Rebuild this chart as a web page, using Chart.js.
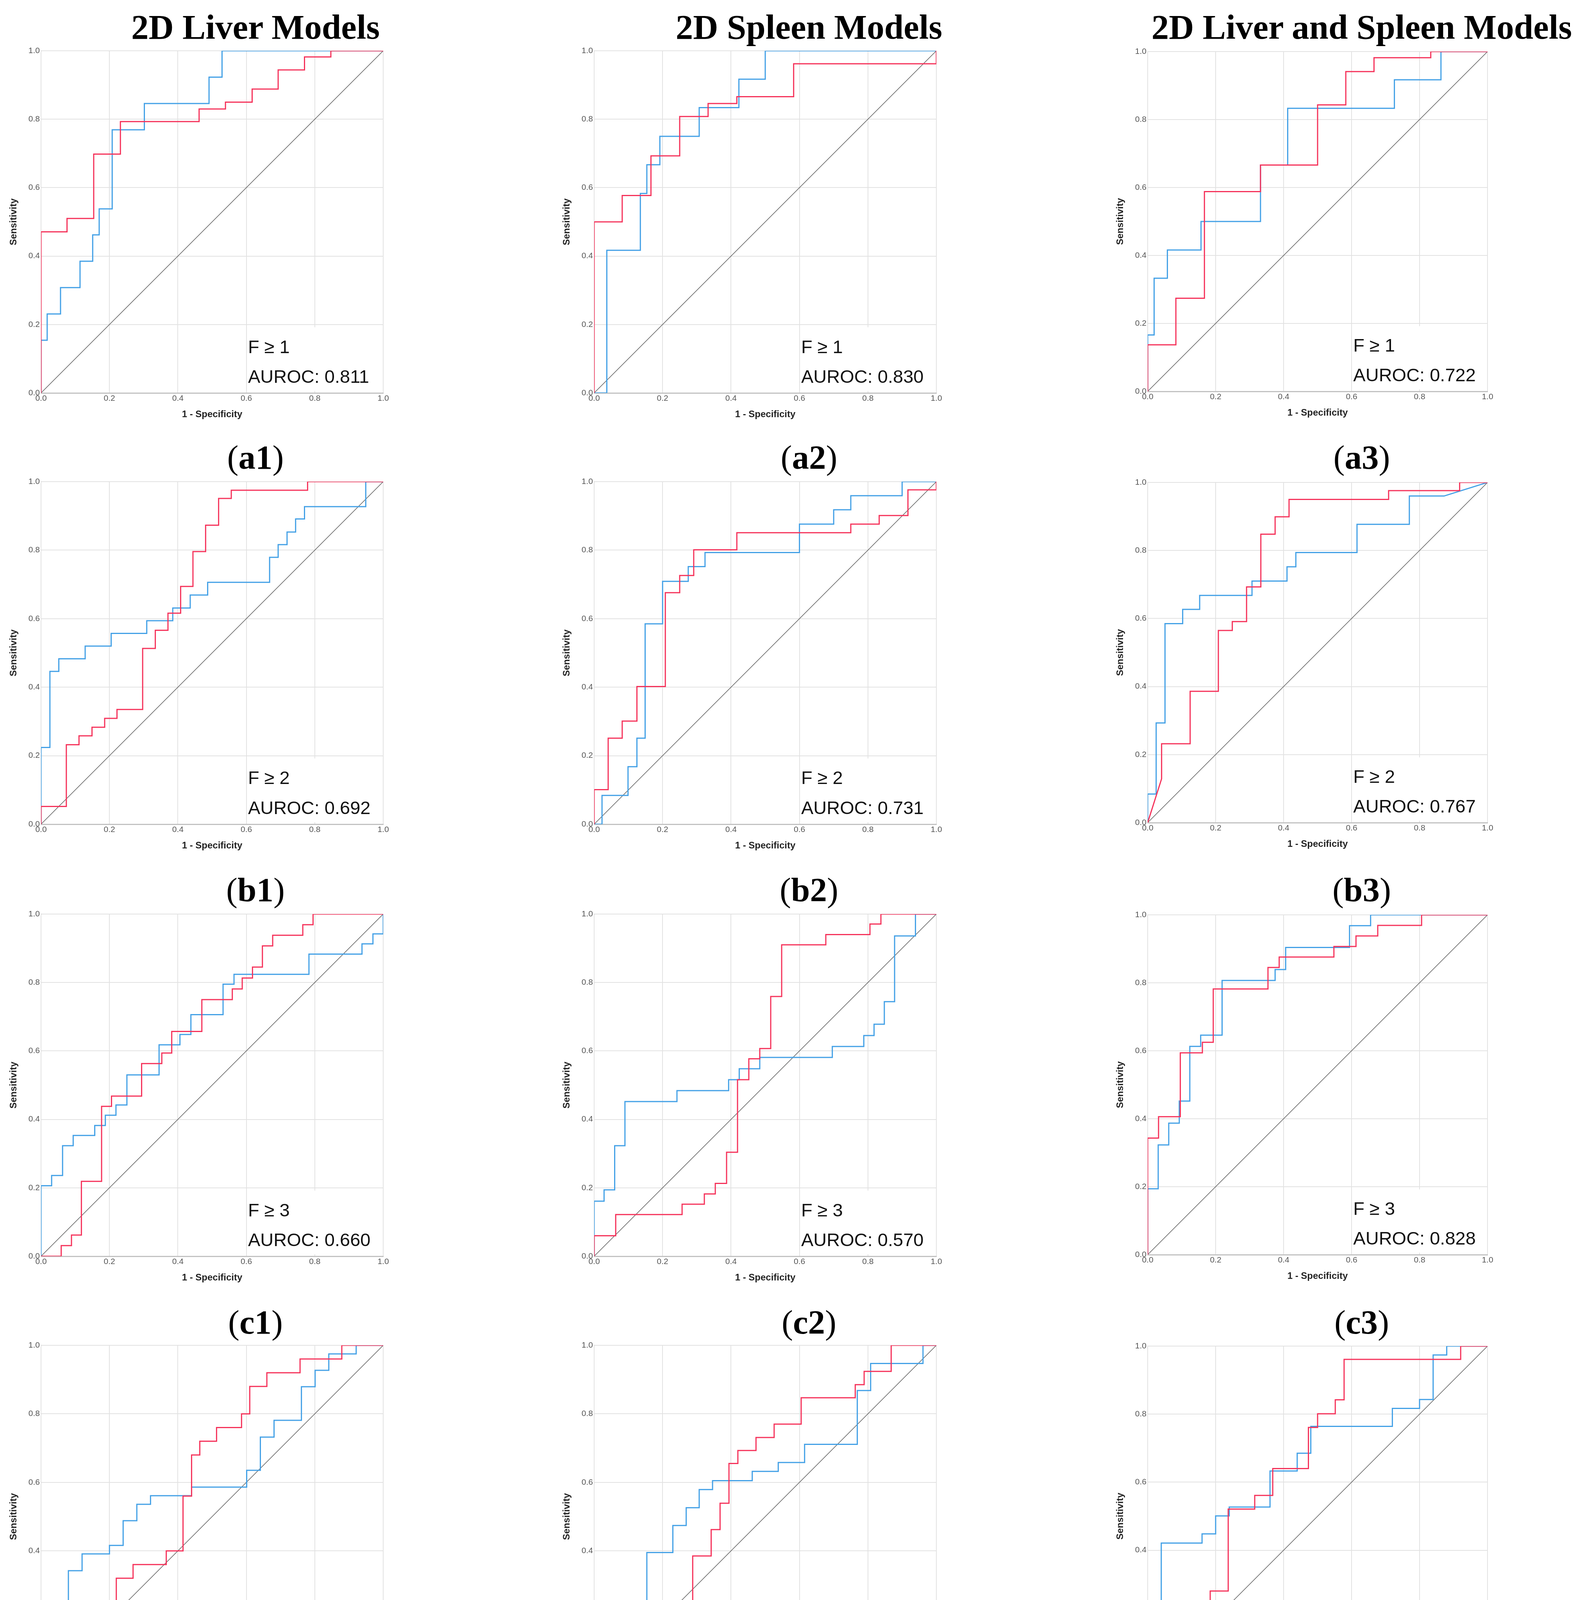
<!DOCTYPE html>
<html><head><meta charset="utf-8">
<script src="https://cdn.jsdelivr.net/npm/chart.js@4/dist/chart.umd.min.js"></script>
<style>
html,body{margin:0;padding:0;background:#fff;}
body{width:4055px;height:4553px;position:relative;overflow:hidden;}
canvas{position:absolute;}
.title{position:absolute;font-family:"Liberation Serif","Times New Roman",serif;font-weight:bold;font-size:89px;color:#000;white-space:nowrap;transform:translateX(-50%);line-height:1;}
.lab{position:absolute;font-family:"Liberation Serif","Times New Roman",serif;font-size:87px;color:#000;transform:translateX(-50%);line-height:1;white-space:nowrap;}
.lab b{font-weight:bold;}
</style></head><body>
<script>
// ---------- DATA ----------
const columnTitles = ['2D Liver Models', '2D Spleen Models', '2D Liver and Spleen Models'];
const rowLetters = ['a', 'b', 'c', 'd'];
const stageLabels = ['F \u2265 1', 'F \u2265 2', 'F \u2265 3', 'F4'];
const aurocLiver = [0.811, 0.692, 0.660, 0.625];
const aurocSpleen = [0.830, 0.731, 0.570, 0.614];
const aurocCombined = [0.722, 0.767, 0.828, 0.674];
const tickValues = [0, 0.2, 0.4, 0.6, 0.8, 1.0];
const tickLabels = ['0.0', '0.2', '0.4', '0.6', '0.8', '1.0'];
const xAxisTitle = '1 - Specificity';
const yAxisTitle = 'Sensitivity';
const chanceLine = [[0,0],[1,1]];

// ROC curve vertices [1 - specificity, sensitivity]
const a1Blue = [[0,0],[0,0.154],[0.018,0.154],[0.018,0.231],[0.057,0.231],[0.057,0.308],[0.114,0.308],[0.114,0.385],[0.151,0.385],[0.151,0.462],[0.170,0.462],[0.170,0.538],[0.208,0.538],[0.208,0.769],[0.302,0.769],[0.302,0.846],[0.491,0.846],[0.491,0.923],[0.529,0.923],[0.529,1],[1,1]];
const a1Red = [[0,0],[0,0.471],[0.076,0.471],[0.076,0.510],[0.154,0.510],[0.154,0.698],[0.232,0.698],[0.232,0.793],[0.462,0.793],[0.462,0.830],[0.539,0.830],[0.539,0.850],[0.617,0.850],[0.617,0.888],[0.693,0.888],[0.693,0.944],[0.770,0.944],[0.770,0.982],[0.847,0.982],[0.847,1],[1,1]];
const a2Blue = [[0,0],[0.037,0],[0.037,0.417],[0.135,0.417],[0.135,0.583],[0.154,0.583],[0.154,0.667],[0.192,0.667],[0.192,0.750],[0.307,0.750],[0.307,0.834],[0.423,0.834],[0.423,0.917],[0.500,0.917],[0.500,1],[1,1]];
const a2Red = [[0,0],[0,0.5],[0.082,0.5],[0.082,0.577],[0.166,0.577],[0.166,0.693],[0.250,0.693],[0.250,0.808],[0.333,0.808],[0.333,0.846],[0.417,0.846],[0.417,0.866],[0.583,0.866],[0.583,0.962],[1,0.962],[1,1]];
const a3Blue = [[0,0],[0,0.166],[0.019,0.166],[0.019,0.333],[0.058,0.333],[0.058,0.416],[0.157,0.416],[0.157,0.5],[0.332,0.5],[0.332,0.666],[0.412,0.666],[0.412,0.833],[0.726,0.833],[0.726,0.917],[0.863,0.917],[0.863,1],[1,1]];
const a3Red = [[0,0],[0,0.137],[0.083,0.137],[0.083,0.274],[0.167,0.274],[0.167,0.588],[0.332,0.588],[0.332,0.666],[0.5,0.666],[0.5,0.843],[0.583,0.843],[0.583,0.941],[0.666,0.941],[0.666,0.982],[0.833,0.982],[0.833,1],[1,1]];
const b1Blue = [[0,0],[0,0.224],[0.026,0.224],[0.026,0.446],[0.052,0.446],[0.052,0.483],[0.129,0.483],[0.129,0.520],[0.205,0.520],[0.205,0.557],[0.309,0.557],[0.309,0.594],[0.385,0.594],[0.385,0.631],[0.436,0.631],[0.436,0.669],[0.487,0.669],[0.487,0.706],[0.668,0.706],[0.668,0.779],[0.693,0.779],[0.693,0.816],[0.719,0.816],[0.719,0.853],[0.744,0.853],[0.744,0.891],[0.770,0.891],[0.770,0.927],[0.949,0.927],[0.949,1],[1,1]];
const b1Red = [[0,0],[0,0.052],[0.074,0.052],[0.074,0.232],[0.111,0.232],[0.111,0.258],[0.149,0.258],[0.149,0.283],[0.186,0.283],[0.186,0.309],[0.222,0.309],[0.222,0.335],[0.297,0.335],[0.297,0.513],[0.334,0.513],[0.334,0.566],[0.371,0.566],[0.371,0.616],[0.408,0.616],[0.408,0.694],[0.444,0.694],[0.444,0.796],[0.481,0.796],[0.481,0.873],[0.519,0.873],[0.519,0.951],[0.556,0.951],[0.556,0.975],[0.779,0.975],[0.779,1],[1,1]];
const b2Blue = [[0,0],[0.023,0],[0.023,0.084],[0.099,0.084],[0.099,0.168],[0.125,0.168],[0.125,0.251],[0.149,0.251],[0.149,0.585],[0.2,0.585],[0.2,0.709],[0.275,0.709],[0.275,0.752],[0.324,0.752],[0.324,0.793],[0.6,0.793],[0.6,0.876],[0.7,0.876],[0.7,0.918],[0.75,0.918],[0.75,0.959],[0.9,0.959],[0.9,1],[1,1]];
const b2Red = [[0,0],[0,0.101],[0.041,0.101],[0.041,0.251],[0.082,0.251],[0.082,0.301],[0.125,0.301],[0.125,0.402],[0.208,0.402],[0.208,0.676],[0.250,0.676],[0.250,0.726],[0.291,0.726],[0.291,0.801],[0.417,0.801],[0.417,0.851],[0.750,0.851],[0.750,0.876],[0.833,0.876],[0.833,0.901],[0.917,0.901],[0.917,0.976],[1,0.976],[1,1]];
const b3Blue = [[0,0],[0,0.084],[0.025,0.084],[0.025,0.293],[0.051,0.293],[0.051,0.585],[0.103,0.585],[0.103,0.627],[0.153,0.627],[0.153,0.668],[0.307,0.668],[0.307,0.710],[0.410,0.710],[0.410,0.752],[0.436,0.752],[0.436,0.794],[0.616,0.794],[0.616,0.877],[0.770,0.877],[0.770,0.960],[0.872,0.960],[1,1]];
const b3Red = [[0,0],[0.041,0.129],[0.041,0.232],[0.125,0.232],[0.125,0.386],[0.208,0.386],[0.208,0.565],[0.249,0.565],[0.249,0.591],[0.291,0.591],[0.291,0.693],[0.333,0.693],[0.333,0.848],[0.375,0.848],[0.375,0.899],[0.416,0.899],[0.416,0.950],[0.709,0.950],[0.709,0.976],[0.918,0.976],[0.918,1],[1,1]];
const c1Blue = [[0,0],[0,0.206],[0.031,0.206],[0.031,0.236],[0.063,0.236],[0.063,0.323],[0.094,0.323],[0.094,0.353],[0.157,0.353],[0.157,0.382],[0.188,0.382],[0.188,0.412],[0.219,0.412],[0.219,0.442],[0.251,0.442],[0.251,0.530],[0.345,0.530],[0.345,0.618],[0.406,0.618],[0.406,0.648],[0.438,0.648],[0.438,0.706],[0.532,0.706],[0.532,0.795],[0.564,0.795],[0.564,0.824],[0.783,0.824],[0.783,0.883],[0.938,0.883],[0.938,0.913],[0.970,0.913],[0.970,0.942],[1,0.942],[1,1]];
const c1Red = [[0,0],[0.059,0],[0.059,0.031],[0.089,0.031],[0.089,0.062],[0.118,0.062],[0.118,0.219],[0.177,0.219],[0.177,0.438],[0.206,0.438],[0.206,0.468],[0.294,0.468],[0.294,0.563],[0.353,0.563],[0.353,0.594],[0.382,0.594],[0.382,0.657],[0.470,0.657],[0.470,0.750],[0.559,0.750],[0.559,0.781],[0.588,0.781],[0.588,0.813],[0.618,0.813],[0.618,0.845],[0.647,0.845],[0.647,0.907],[0.677,0.907],[0.677,0.938],[0.765,0.938],[0.765,0.969],[0.795,0.969],[0.795,1],[1,1]];
const c2Blue = [[0,0],[0,0.161],[0.029,0.161],[0.029,0.194],[0.060,0.194],[0.060,0.323],[0.090,0.323],[0.090,0.452],[0.242,0.452],[0.242,0.484],[0.393,0.484],[0.393,0.516],[0.424,0.516],[0.424,0.548],[0.484,0.548],[0.484,0.581],[0.696,0.581],[0.696,0.613],[0.788,0.613],[0.788,0.645],[0.818,0.645],[0.818,0.678],[0.848,0.678],[0.848,0.744],[0.878,0.744],[0.878,0.936],[0.939,0.936],[0.939,1],[1,1]];
const c2Red = [[0,0],[0,0.060],[0.063,0.060],[0.063,0.122],[0.257,0.122],[0.257,0.152],[0.322,0.152],[0.322,0.182],[0.354,0.182],[0.354,0.213],[0.387,0.213],[0.387,0.304],[0.419,0.304],[0.419,0.516],[0.452,0.516],[0.452,0.577],[0.484,0.577],[0.484,0.607],[0.516,0.607],[0.516,0.759],[0.548,0.759],[0.548,0.910],[0.677,0.910],[0.677,0.940],[0.806,0.940],[0.806,0.971],[0.838,0.971],[0.838,1],[1,1]];
const c3Blue = [[0,0],[0,0.194],[0.031,0.194],[0.031,0.323],[0.062,0.323],[0.062,0.387],[0.093,0.387],[0.093,0.452],[0.124,0.452],[0.124,0.613],[0.156,0.613],[0.156,0.646],[0.219,0.646],[0.219,0.807],[0.375,0.807],[0.375,0.839],[0.406,0.839],[0.406,0.904],[0.594,0.904],[0.594,0.968],[0.656,0.968],[0.656,1],[1,1]];
const c3Red = [[0,0],[0,0.343],[0.032,0.343],[0.032,0.406],[0.096,0.406],[0.096,0.594],[0.161,0.594],[0.161,0.625],[0.193,0.625],[0.193,0.782],[0.354,0.782],[0.354,0.845],[0.387,0.845],[0.387,0.876],[0.548,0.876],[0.548,0.907],[0.613,0.907],[0.613,0.938],[0.677,0.938],[0.677,0.969],[0.806,0.969],[0.806,1],[1,1]];
const d1Blue = [[0,0],[0,0.121],[0.040,0.121],[0.040,0.245],[0.080,0.245],[0.080,0.342],[0.120,0.342],[0.120,0.391],[0.200,0.391],[0.200,0.416],[0.240,0.416],[0.240,0.488],[0.280,0.488],[0.280,0.536],[0.320,0.536],[0.320,0.561],[0.440,0.561],[0.440,0.586],[0.601,0.586],[0.601,0.635],[0.641,0.635],[0.641,0.732],[0.681,0.732],[0.681,0.781],[0.761,0.781],[0.761,0.879],[0.801,0.879],[0.801,0.927],[0.841,0.927],[0.841,0.975],[0.921,0.975],[0.921,1],[1,1]];
const d1Red = [[0,0],[0,0.079],[0.025,0.079],[0.025,0.160],[0.074,0.160],[0.074,0.199],[0.122,0.199],[0.122,0.240],[0.220,0.240],[0.220,0.320],[0.269,0.320],[0.269,0.360],[0.366,0.360],[0.366,0.400],[0.415,0.400],[0.415,0.560],[0.440,0.560],[0.440,0.680],[0.464,0.680],[0.464,0.720],[0.513,0.720],[0.513,0.760],[0.586,0.760],[0.586,0.800],[0.610,0.800],[0.610,0.880],[0.660,0.880],[0.660,0.920],[0.757,0.920],[0.757,0.960],[0.879,0.960],[0.879,1],[1,1]];
const d2Blue = [[0,0],[0,0.131],[0.076,0.131],[0.076,0.211],[0.115,0.211],[0.115,0.238],[0.154,0.238],[0.154,0.395],[0.230,0.395],[0.230,0.474],[0.269,0.474],[0.269,0.526],[0.307,0.526],[0.307,0.579],[0.346,0.579],[0.346,0.605],[0.462,0.605],[0.462,0.632],[0.538,0.632],[0.538,0.658],[0.615,0.658],[0.615,0.711],[0.769,0.711],[0.769,0.868],[0.808,0.868],[0.808,0.947],[0.961,0.947],[0.961,1],[1,1]];
const d2Red = [[0,0],[0,0.039],[0.052,0.039],[0.052,0.192],[0.131,0.192],[0.131,0.232],[0.288,0.232],[0.288,0.385],[0.342,0.385],[0.342,0.462],[0.368,0.462],[0.368,0.539],[0.394,0.539],[0.394,0.655],[0.420,0.655],[0.420,0.693],[0.473,0.693],[0.473,0.731],[0.526,0.731],[0.526,0.770],[0.605,0.770],[0.605,0.847],[0.763,0.847],[0.763,0.885],[0.789,0.885],[0.789,0.924],[0.868,0.924],[0.868,1],[1,1]];
const d3Blue = [[0,0],[0,0.079],[0.040,0.079],[0.040,0.421],[0.160,0.421],[0.160,0.448],[0.200,0.448],[0.200,0.501],[0.240,0.501],[0.240,0.527],[0.360,0.527],[0.360,0.633],[0.440,0.633],[0.440,0.685],[0.480,0.685],[0.480,0.764],[0.720,0.764],[0.720,0.817],[0.800,0.817],[0.800,0.843],[0.840,0.843],[0.840,0.974],[0.880,0.974],[0.880,1],[1,1]];
const d3Red = [[0,0],[0,0.119],[0.026,0.119],[0.026,0.159],[0.158,0.159],[0.158,0.200],[0.184,0.200],[0.184,0.280],[0.237,0.280],[0.237,0.521],[0.315,0.521],[0.315,0.561],[0.368,0.561],[0.368,0.640],[0.473,0.640],[0.473,0.761],[0.500,0.761],[0.500,0.801],[0.552,0.801],[0.552,0.842],[0.578,0.842],[0.578,0.961],[0.921,0.961],[0.921,1],[1,1]];

const blueCurves = [a1Blue, a2Blue, a3Blue, b1Blue, b2Blue, b3Blue, c1Blue, c2Blue, c3Blue, d1Blue, d2Blue, d3Blue];
const redCurves = [a1Red, a2Red, a3Red, b1Red, b2Red, b3Red, c1Red, c2Red, c3Red, d1Red, d2Red, d3Red];
const aurocByColumn = [aurocLiver, aurocSpleen, aurocCombined];

// ---------- LAYOUT / STYLE ----------
const BLUE = '#42a0e6';
const RED = '#f5325a';
const GRID = '#e2e2e2';
const SANS = '"Liberation Sans", Arial, sans-serif';
const colLeft = [105, 1521, 2938];
const colWidth = [876, 876, 870];
const rowTop = [130, 1233, 2340, 3444];
const rowHeight = [876, 877, 876, 877];
const titleCenter = [654, 2071, 3486];
const labelBaseline = [1200, 2307, 3414, 4521];
const Y_AXIS_W = 100, X_AXIS_H = 80, PAD_TOP = 25, PAD_RIGHT = 30;

columnTitles.forEach((t, i) => {
  const d = document.createElement('div');
  d.className = 'title';
  d.textContent = t;
  d.style.left = titleCenter[i] + 'px';
  d.style.top = (100 - 0.8375 * 89) + 'px';
  document.body.appendChild(d);
});

const annotPlugin = {
  id: 'annot',
  beforeDatasetsDraw(chart) {
    const {ctx, scales: {x, y}} = chart;
    ctx.save();
    ctx.fillStyle = '#ffffff';
    const x0 = x.getPixelForValue(0.612), x1 = x.getPixelForValue(0.988);
    const y0 = y.getPixelForValue(0.192), y1 = y.getPixelForValue(0.006);
    ctx.fillRect(x0, y0, x1 - x0, y1 - y0);
    ctx.restore();
  },
  afterDatasetsDraw(chart, args, opts) {
    const {ctx, scales: {x, y}} = chart;
    ctx.save();
    ctx.fillStyle = '#111';
    ctx.font = '47px ' + SANS;
    ctx.textAlign = 'left';
    ctx.textBaseline = 'alphabetic';
    ctx.fillText(opts.line1, x.getPixelForValue(0.605), y.getPixelForValue(0.117));
    ctx.fillText(opts.line2, x.getPixelForValue(0.605), y.getPixelForValue(0.030));
    ctx.restore();
  }
};

const toXY = arr => arr.map(p => ({x: p[0], y: p[1]}));

for (let idx = 0; idx < 12; idx++) {
  const col = idx % 3, row = Math.floor(idx / 3);
  const L = colLeft[col], W = colWidth[col];
  const T = rowTop[row] + (col === 2 ? 2 : 0);
  const H = rowHeight[row] - (col === 2 ? 6 : 0);
  const cv = document.createElement('canvas');
  cv.width = W + Y_AXIS_W + PAD_RIGHT;
  cv.height = H + PAD_TOP + X_AXIS_H;
  cv.style.left = (L - Y_AXIS_W) + 'px';
  cv.style.top = (T - PAD_TOP) + 'px';
  cv.style.width = cv.width + 'px';
  cv.style.height = cv.height + 'px';
  document.body.appendChild(cv);

  const lab = document.createElement('div');
  lab.className = 'lab';
  lab.innerHTML = '(<b>' + rowLetters[row] + (col + 1) + '</b>)';
  lab.style.left = titleCenter[col] + 'px';
  lab.style.top = (labelBaseline[row] - 0.8375 * 87) + 'px';
  document.body.appendChild(lab);

  const tickOpts = {
    padding: 3,
    color: '#555',
    font: {family: SANS, size: 21},
    callback: (v) => tickLabels[tickValues.findIndex(t => Math.abs(t - v) < 1e-6)] ?? ''
  };
  new Chart(cv, {
    type: 'scatter',
    data: {
      datasets: [
        {data: toXY(redCurves[idx]), showLine: true, borderColor: RED, borderWidth: 3, pointRadius: 0, tension: 0, fill: false},
        {data: toXY(blueCurves[idx]), showLine: true, borderColor: BLUE, borderWidth: 3, pointRadius: 0, tension: 0, fill: false},
        {data: toXY(chanceLine), showLine: true, borderColor: '#6c6c6c', borderWidth: 1.6, pointRadius: 0, tension: 0, fill: false}
      ]
    },
    options: {
      responsive: false,
      animation: false,
      devicePixelRatio: 1,
      events: [],
      layout: {padding: {left: 0, top: PAD_TOP, right: PAD_RIGHT, bottom: 0}},
      plugins: {
        legend: {display: false},
        tooltip: {enabled: false},
        annot: {line1: stageLabels[row], line2: 'AUROC: ' + aurocByColumn[col][row].toFixed(3)}
      },
      scales: {
        x: {
          type: 'linear', min: 0, max: 1,
          afterBuildTicks: s => { s.ticks = tickValues.map(v => ({value: v})); },
          afterFit: s => { s.height = X_AXIS_H; },
          grid: {color: GRID, lineWidth: 2, drawTicks: false},
          border: {color: '#c2c2c2', width: 3},
          ticks: Object.assign({}, tickOpts, {padding: 2, maxRotation: 0}),
          title: {display: true, text: xAxisTitle, color: '#222', font: {family: SANS, size: 24, weight: 'bold'}, padding: {top: 0, bottom: 10}}
        },
        y: {
          type: 'linear', min: 0, max: 1,
          afterBuildTicks: s => { s.ticks = tickValues.map(v => ({value: v})); },
          afterFit: s => { s.width = Y_AXIS_W; },
          grid: {color: GRID, lineWidth: 2, drawTicks: false},
          border: {color: GRID, width: 2},
          ticks: tickOpts,
          title: {display: true, text: yAxisTitle, color: '#222', font: {family: SANS, size: 24, weight: 'bold'}, padding: {top: 16, bottom: 0}}
        }
      }
    },
    plugins: [annotPlugin]
  });
}
</script>
</body></html>
